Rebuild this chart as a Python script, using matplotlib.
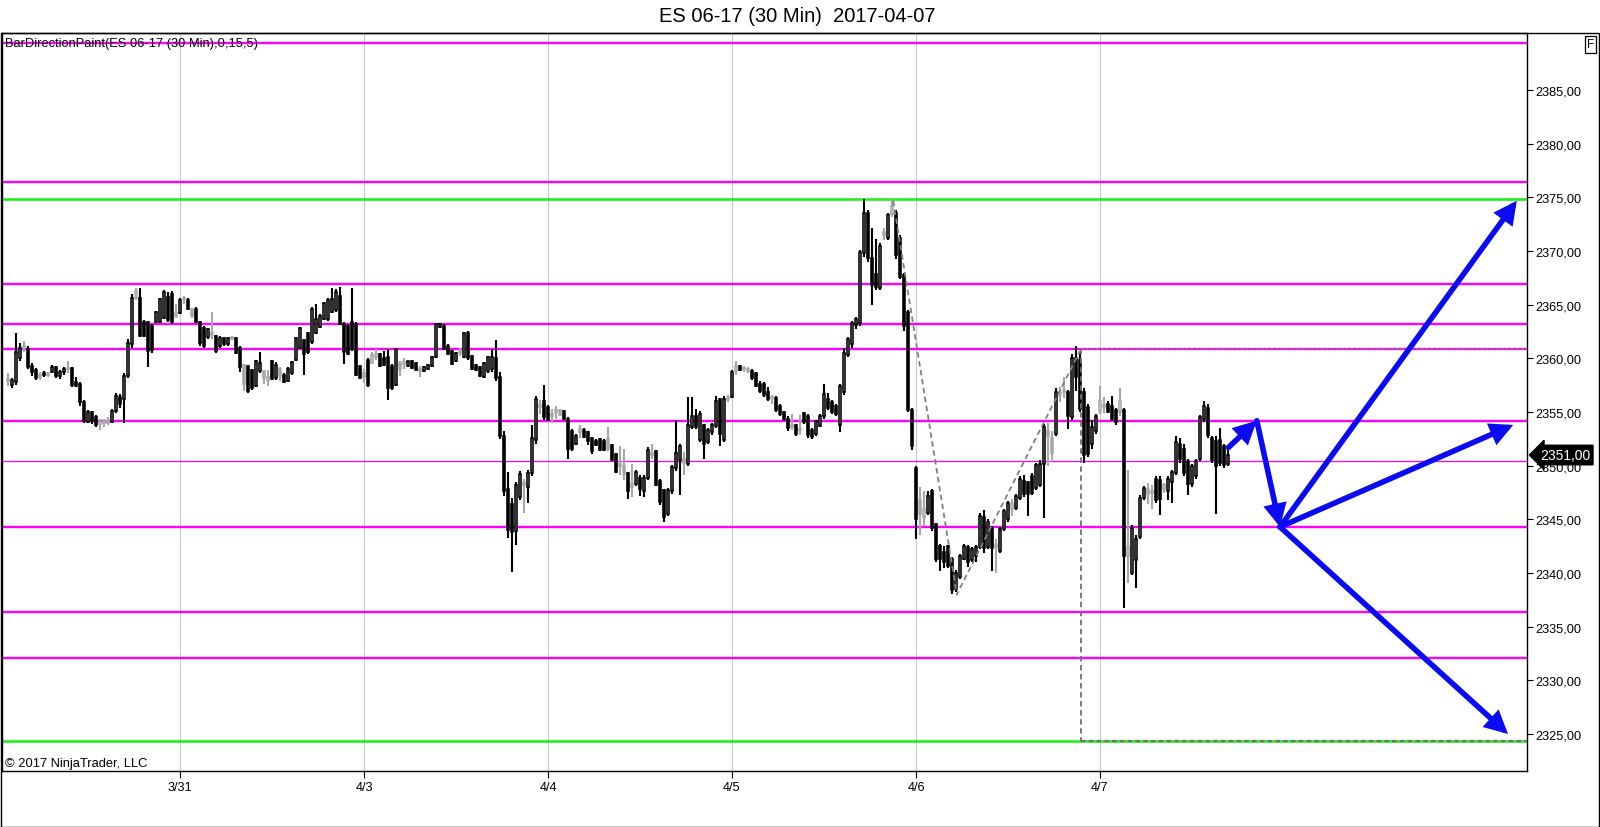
import matplotlib
matplotlib.use("Agg")
import matplotlib.pyplot as plt
from matplotlib.patches import Rectangle
import numpy as np
import pandas as pd

plt.rcParams['font.family'] = ['Liberation Sans', 'DejaVu Sans']

# ---------------- text ----------------
title = 'ES 06-17 (30 Min)  2017-04-07'
indicator_label = 'BarDirectionPaint(ES 06-17 (30 Min),0,15,5)'
copyright_text = '\u00a9 2017 NinjaTrader, LLC'

# ---------------- time axis ----------------
trade_days = ['2017-03-30', '2017-03-31', '2017-04-03', '2017-04-04',
              '2017-04-05', '2017-04-06', '2017-04-07']
first_bar_time = '2017-03-30 01:30'

# ---------------- OHLC (30 min bars) ----------------
opens = [
    2358.0, 2357.5, 2357.8, 2360.0, 2361.0, 2360.9, 2359.3, 2358.9, 2358.3, 2358.6,
    2358.5, 2358.7, 2359.2, 2358.4, 2358.7, 2359.0, 2359.1, 2357.8, 2357.6, 2355.9,
    2354.1, 2355.0, 2354.5, 2353.9, 2354.0, 2354.0, 2354.1, 2355.1, 2356.4, 2356.2,
    2358.4, 2361.3, 2365.6, 2365.6, 2363.4, 2363.4, 2363.0, 2363.4, 2363.4, 2363.8,
    2365.7, 2366.0, 2364.0, 2364.2, 2365.5, 2365.4, 2364.6, 2364.6, 2363.4, 2362.8,
    2362.0, 2362.4, 2362.1, 2361.2, 2361.9, 2361.3, 2362.0, 2361.9, 2361.0, 2359.4,
    2359.3, 2358.9, 2357.4, 2358.8, 2358.8, 2358.0, 2359.8, 2358.2, 2359.0, 2358.5,
    2357.9, 2358.6, 2359.9, 2361.0, 2361.7, 2362.4, 2361.5, 2362.4, 2362.9, 2363.7,
    2363.7, 2364.3, 2364.5, 2365.8, 2363.2, 2363.0, 2363.4, 2363.2, 2359.3, 2358.6,
    2359.9, 2359.6, 2360.1, 2360.4, 2360.0, 2360.1, 2359.3, 2357.5, 2359.6, 2359.5,
    2359.3, 2359.8, 2359.6, 2359.0, 2358.8, 2359.0, 2359.3, 2360.1, 2362.9, 2363.0,
    2361.2, 2360.7, 2359.8, 2360.5, 2360.1, 2362.4, 2360.2, 2359.4, 2359.2, 2358.3,
    2358.8, 2359.0, 2360.0, 2358.3, 2352.8, 2347.8, 2346.4, 2343.9, 2347.1, 2348.2,
    2348.0, 2349.3, 2352.4, 2355.5, 2356.0, 2355.5, 2354.6, 2355.0, 2355.2, 2355.1,
    2354.4, 2353.2, 2352.0, 2353.1, 2353.3, 2353.1, 2352.6, 2352.3, 2352.5, 2352.3,
    2352.5, 2351.9, 2351.1, 2350.2, 2350.0, 2349.3, 2348.0, 2348.3, 2348.9, 2347.6,
    2348.9, 2351.2, 2351.4, 2348.6, 2347.7, 2345.5, 2347.6, 2349.8, 2350.5, 2350.6,
    2350.2, 2353.6, 2354.6, 2352.4, 2353.8, 2352.2, 2353.1, 2353.7, 2356.2, 2352.4,
    2356.2, 2356.4, 2358.8, 2359.3, 2359.0, 2359.0, 2358.8, 2358.6, 2357.6, 2357.6,
    2356.9, 2356.4, 2356.3, 2355.6, 2355.0, 2354.4, 2353.6, 2353.8, 2353.4, 2354.9,
    2354.6, 2353.3, 2353.0, 2353.7, 2354.6, 2356.2, 2355.9, 2355.6, 2353.8, 2356.9,
    2360.3, 2361.3, 2363.1, 2363.3, 2369.8, 2373.6, 2369.4, 2367.9, 2366.6, 2371.8,
    2371.2, 2373.5, 2373.6, 2371.2, 2367.8, 2364.3, 2355.2, 2349.8, 2346.8, 2345.2,
    2345.6, 2347.6, 2344.6, 2342.5, 2342.0, 2342.5, 2341.3, 2338.5, 2339.6, 2341.3,
    2342.4, 2341.2, 2341.6, 2342.4, 2345.2, 2342.4, 2344.2, 2342.4, 2342.1, 2344.1,
    2345.0, 2346.0, 2346.1, 2347.0, 2348.6, 2348.5, 2349.0, 2347.9, 2348.2, 2350.2,
    2353.2, 2352.6, 2353.0, 2356.6, 2357.0, 2356.9, 2354.5, 2360.0, 2359.9, 2356.9,
    2355.5, 2352.0, 2353.2, 2355.1, 2355.6, 2355.8, 2355.6, 2355.2, 2355.0, 2355.2,
    2341.6, 2340.0, 2341.2, 2343.4, 2347.0, 2347.8, 2347.5, 2348.8, 2348.7, 2347.8,
    2347.6, 2348.5, 2349.3, 2352.0, 2351.6, 2350.4, 2348.3, 2349.0, 2350.6, 2354.4,
    2355.4, 2352.6, 2352.3, 2352.4, 2351.8, 2350.2,
]
highs = [
    2358.6, 2358.2, 2362.4, 2361.4, 2361.6, 2361.2, 2359.6, 2359.1, 2358.7, 2358.8,
    2358.7, 2359.4, 2359.3, 2358.9, 2359.2, 2359.8, 2359.2, 2358.3, 2357.8, 2356.1,
    2355.2, 2355.1, 2354.7, 2354.4, 2354.4, 2354.5, 2355.3, 2356.8, 2356.7, 2358.6,
    2361.8, 2366.0, 2366.6, 2366.6, 2363.6, 2363.5, 2363.2, 2364.4, 2365.6, 2366.4,
    2366.2, 2366.3, 2365.1, 2365.6, 2365.8, 2365.6, 2364.7, 2364.8, 2363.5, 2363.0,
    2362.8, 2364.3, 2362.2, 2362.1, 2362.0, 2362.0, 2362.1, 2362.0, 2361.2, 2359.5,
    2359.4, 2359.0, 2359.9, 2360.6, 2358.9, 2358.9, 2359.9, 2359.7, 2359.2, 2358.6,
    2359.2, 2359.8, 2362.0, 2362.9, 2361.8, 2362.5, 2364.8, 2365.1, 2364.1, 2365.3,
    2365.6, 2366.6, 2366.5, 2366.7, 2363.4, 2363.2, 2366.6, 2363.4, 2359.4, 2359.0,
    2360.0, 2360.6, 2360.9, 2360.5, 2360.7, 2360.9, 2359.5, 2361.0, 2359.8, 2360.0,
    2359.8, 2359.9, 2359.7, 2359.3, 2359.3, 2359.5, 2360.2, 2363.3, 2363.3, 2363.2,
    2361.3, 2360.8, 2360.6, 2361.0, 2362.5, 2362.6, 2360.3, 2359.5, 2359.3, 2359.7,
    2360.2, 2360.9, 2361.7, 2358.7, 2353.2, 2349.4, 2347.0, 2348.5, 2349.5, 2348.8,
    2349.6, 2353.8, 2356.5, 2356.1, 2357.5, 2355.7, 2355.3, 2355.6, 2355.3, 2355.2,
    2354.5, 2353.4, 2353.0, 2353.8, 2353.5, 2353.2, 2352.7, 2352.5, 2352.6, 2352.5,
    2353.6, 2352.0, 2351.2, 2351.8, 2351.6, 2349.4, 2350.2, 2349.6, 2349.1, 2349.1,
    2351.7, 2352.0, 2351.5, 2348.8, 2347.8, 2347.9, 2350.1, 2354.3, 2352.0, 2351.3,
    2356.4, 2356.4, 2355.3, 2355.1, 2353.9, 2353.5, 2354.0, 2356.5, 2356.3, 2356.5,
    2356.6, 2358.9, 2359.8, 2359.4, 2359.3, 2359.2, 2359.0, 2358.7, 2357.9, 2357.8,
    2357.3, 2356.6, 2356.5, 2355.8, 2355.1, 2354.6, 2354.8, 2353.9, 2354.7, 2355.0,
    2354.8, 2353.5, 2354.3, 2354.8, 2357.6, 2356.8, 2356.1, 2355.8, 2357.6, 2361.0,
    2362.0, 2363.5, 2363.9, 2370.1, 2374.9, 2373.8, 2372.2, 2371.1, 2370.8, 2372.2,
    2373.6, 2374.9, 2373.8, 2371.5, 2368.0, 2364.5, 2355.4, 2350.0, 2348.0, 2347.6,
    2347.6, 2347.8, 2344.7, 2342.7, 2342.5, 2342.6, 2341.5, 2340.3, 2341.8, 2342.7,
    2342.6, 2342.4, 2342.6, 2345.6, 2345.9, 2345.0, 2344.4, 2343.2, 2344.3, 2346.0,
    2346.7, 2346.9, 2347.4, 2349.0, 2349.1, 2348.6, 2349.3, 2350.3, 2350.5, 2353.9,
    2354.0, 2353.2, 2357.2, 2357.3, 2358.3, 2357.1, 2360.4, 2361.2, 2360.6, 2357.2,
    2355.8, 2354.3, 2354.8, 2357.4, 2356.4, 2356.0, 2356.5, 2355.4, 2357.2, 2355.4,
    2349.6, 2344.5, 2343.5, 2347.3, 2348.1, 2348.4, 2348.2, 2349.0, 2349.0, 2348.4,
    2349.0, 2349.6, 2352.8, 2352.6, 2352.0, 2350.6, 2350.2, 2350.6, 2354.7, 2356.0,
    2355.8, 2352.8, 2352.8, 2353.5, 2352.0, 2351.6,
]
lows = [
    2357.4, 2357.2, 2357.5, 2359.8, 2360.6, 2359.0, 2358.4, 2358.0, 2358.0, 2358.3,
    2358.3, 2358.6, 2358.2, 2358.1, 2358.5, 2358.6, 2357.3, 2357.3, 2355.6, 2354.0,
    2354.0, 2353.9, 2353.6, 2353.3, 2353.6, 2353.8, 2354.0, 2354.9, 2355.4, 2354.0,
    2358.2, 2361.0, 2365.4, 2362.0, 2362.0, 2359.2, 2360.5, 2363.3, 2363.3, 2363.7,
    2363.4, 2363.2, 2363.8, 2364.1, 2365.1, 2364.5, 2363.8, 2363.3, 2361.2, 2361.0,
    2361.8, 2361.8, 2360.5, 2361.0, 2361.2, 2361.2, 2361.7, 2360.4, 2358.7, 2357.0,
    2356.8, 2357.1, 2357.3, 2358.6, 2357.6, 2357.4, 2358.0, 2358.0, 2357.9, 2357.7,
    2357.8, 2358.5, 2359.8, 2360.9, 2358.5, 2360.4, 2361.3, 2362.3, 2362.8, 2363.6,
    2363.5, 2364.2, 2364.3, 2363.1, 2359.5, 2360.3, 2360.7, 2358.4, 2358.1, 2357.7,
    2357.3, 2359.5, 2359.9, 2359.2, 2359.3, 2356.1, 2357.1, 2357.4, 2358.4, 2359.0,
    2359.2, 2359.0, 2358.8, 2358.3, 2358.7, 2358.9, 2359.2, 2360.0, 2362.8, 2360.8,
    2360.3, 2359.4, 2359.7, 2360.2, 2360.0, 2359.9, 2358.9, 2358.8, 2358.3, 2358.2,
    2358.6, 2358.7, 2357.9, 2352.5, 2347.2, 2343.3, 2340.1, 2342.6, 2346.8, 2345.6,
    2346.5, 2349.0, 2352.0, 2354.8, 2354.3, 2354.2, 2354.0, 2354.4, 2354.6, 2354.3,
    2350.6, 2351.4, 2351.9, 2352.6, 2352.6, 2351.9, 2351.1, 2351.8, 2351.4, 2351.4,
    2351.4, 2350.4, 2349.3, 2349.1, 2348.7, 2346.9, 2347.1, 2348.1, 2347.2, 2347.1,
    2348.7, 2350.6, 2348.1, 2346.3, 2344.8, 2345.3, 2347.4, 2349.5, 2347.3, 2349.1,
    2350.0, 2353.4, 2353.4, 2352.2, 2350.6, 2352.0, 2352.9, 2353.5, 2351.8, 2352.2,
    2355.9, 2356.3, 2358.5, 2358.8, 2358.7, 2358.6, 2358.0, 2357.3, 2356.8, 2356.4,
    2356.0, 2355.8, 2355.0, 2354.6, 2354.2, 2353.2, 2353.3, 2352.8, 2352.9, 2353.9,
    2352.6, 2352.5, 2352.8, 2353.6, 2354.4, 2355.2, 2354.8, 2354.6, 2353.1, 2356.6,
    2360.1, 2361.0, 2362.7, 2363.0, 2369.5, 2369.0, 2365.0, 2366.4, 2366.4, 2371.0,
    2371.0, 2373.2, 2369.3, 2367.4, 2362.6, 2355.0, 2351.5, 2343.2, 2343.5, 2344.4,
    2345.4, 2343.9, 2341.0, 2340.2, 2340.5, 2340.5, 2338.0, 2338.2, 2339.4, 2341.2,
    2340.6, 2341.0, 2341.0, 2342.2, 2341.9, 2342.2, 2340.2, 2340.0, 2341.9, 2343.9,
    2344.8, 2345.3, 2345.9, 2346.8, 2347.1, 2345.3, 2347.3, 2347.7, 2348.0, 2345.1,
    2350.0, 2350.5, 2352.8, 2355.9, 2356.3, 2353.4, 2354.3, 2357.0, 2355.0, 2350.3,
    2350.8, 2351.6, 2353.0, 2354.8, 2354.9, 2354.9, 2354.2, 2353.8, 2354.6, 2336.7,
    2339.1, 2339.8, 2338.6, 2343.2, 2346.8, 2346.4, 2346.0, 2346.5, 2345.4, 2347.5,
    2346.8, 2346.5, 2349.1, 2350.3, 2349.0, 2347.3, 2348.0, 2348.8, 2350.4, 2354.1,
    2352.6, 2350.3, 2345.5, 2350.0, 2349.8, 2350.0,
]
closes = [
    2357.9, 2358.0, 2360.6, 2361.0, 2361.2, 2359.2, 2358.7, 2358.2, 2358.3, 2358.5,
    2358.5, 2359.2, 2358.4, 2358.7, 2359.0, 2359.1, 2357.5, 2357.4, 2355.9, 2354.2,
    2355.0, 2354.2, 2353.8, 2354.0, 2354.0, 2354.2, 2355.1, 2356.5, 2355.8, 2358.4,
    2361.4, 2365.6, 2366.3, 2362.1, 2362.1, 2360.7, 2360.8, 2364.3, 2365.5, 2366.2,
    2363.6, 2363.4, 2364.2, 2365.4, 2365.6, 2364.6, 2364.0, 2363.4, 2361.4, 2361.2,
    2362.7, 2362.2, 2360.7, 2361.9, 2361.3, 2361.9, 2361.8, 2360.5, 2359.2, 2357.6,
    2357.0, 2357.2, 2359.8, 2359.6, 2358.2, 2358.3, 2358.1, 2359.4, 2358.4, 2357.8,
    2359.0, 2359.7, 2361.9, 2362.8, 2360.4, 2360.6, 2364.6, 2363.7, 2364.0, 2365.2,
    2365.4, 2365.5, 2366.2, 2363.2, 2360.6, 2360.4, 2360.9, 2358.5, 2358.2, 2358.3,
    2357.5, 2360.3, 2360.4, 2359.3, 2359.4, 2357.2, 2357.2, 2360.9, 2359.0, 2359.7,
    2359.8, 2359.1, 2358.9, 2358.8, 2359.2, 2359.4, 2360.1, 2363.2, 2363.2, 2360.9,
    2360.4, 2359.5, 2360.5, 2360.6, 2362.4, 2360.0, 2359.0, 2358.9, 2358.4, 2359.6,
    2360.1, 2360.1, 2358.2, 2352.8, 2347.6, 2344.0, 2343.8, 2348.2, 2349.2, 2348.4,
    2349.3, 2352.6, 2356.2, 2355.7, 2354.5, 2354.3, 2354.8, 2355.1, 2354.7, 2354.4,
    2351.6, 2351.6, 2352.8, 2353.4, 2352.7, 2352.3, 2351.4, 2351.9, 2351.5, 2351.5,
    2351.6, 2350.5, 2349.4, 2350.0, 2349.2, 2347.6, 2348.3, 2349.4, 2347.8, 2348.9,
    2351.5, 2351.0, 2348.2, 2346.6, 2345.2, 2347.7, 2349.9, 2351.2, 2351.8, 2350.3,
    2353.8, 2354.6, 2353.6, 2354.8, 2352.0, 2353.3, 2353.8, 2356.0, 2353.0, 2356.2,
    2356.3, 2358.7, 2359.3, 2358.9, 2359.0, 2358.8, 2358.2, 2357.4, 2357.0, 2356.6,
    2356.2, 2356.3, 2355.2, 2354.8, 2354.4, 2353.5, 2353.7, 2353.0, 2353.3, 2354.1,
    2352.9, 2352.7, 2354.2, 2354.6, 2356.7, 2355.4, 2355.0, 2354.8, 2357.4, 2360.5,
    2361.8, 2363.3, 2363.7, 2369.9, 2373.6, 2369.4, 2366.8, 2366.7, 2370.5, 2371.5,
    2373.4, 2374.2, 2369.6, 2367.6, 2363.0, 2355.2, 2351.8, 2345.0, 2345.5, 2346.0,
    2347.2, 2344.2, 2341.3, 2341.3, 2341.0, 2340.7, 2338.4, 2340.0, 2341.6, 2342.5,
    2341.0, 2342.2, 2342.4, 2345.3, 2342.3, 2344.8, 2342.3, 2342.6, 2344.1, 2345.8,
    2346.5, 2346.4, 2347.2, 2348.8, 2347.4, 2347.4, 2347.5, 2350.1, 2350.2, 2353.6,
    2352.8, 2351.2, 2356.9, 2356.8, 2356.9, 2354.6, 2360.0, 2358.3, 2355.3, 2351.0,
    2351.1, 2353.6, 2354.6, 2356.0, 2355.5, 2355.0, 2354.4, 2354.1, 2356.0, 2341.6,
    2342.4, 2344.2, 2343.2, 2347.0, 2347.9, 2347.4, 2347.6, 2346.8, 2346.9, 2348.2,
    2348.8, 2349.4, 2352.2, 2350.6, 2349.3, 2348.3, 2350.0, 2350.4, 2354.5, 2355.6,
    2352.9, 2350.5, 2350.0, 2350.3, 2350.1, 2351.0,
]
# bars painted gray by BarDirectionPaint
gray_bars = [0, 4, 8, 10, 15, 23, 24, 25, 32, 42, 44, 46, 51, 56, 59, 64, 65, 68,
             89, 91, 92, 98, 99, 103, 113, 129, 133, 136, 137, 138, 143, 150, 153,
             154, 156, 161, 169, 180, 182, 184, 185, 191, 196, 198, 219, 221, 228,
             229, 247, 251, 260, 261, 263, 264, 273, 274, 278, 280, 285, 286, 289]

# ---------------- horizontal levels ----------------
magenta_levels = [2389.4, 2376.4, 2366.9, 2363.2, 2360.9, 2354.2, 2344.3, 2336.4, 2332.1]
thin_magenta_levels = [2350.4]
green_levels = [2374.85, 2324.3]

# ---------------- drawings ----------------
zigzag_bars = [221.3, 237.2, 268.0]
zigzag_prices = [2374.7, 2338.0, 2360.7]
box_bar = 268.25
box_top = 2360.9
box_bottom = 2324.3

path_bars = [305.1, 312.2, 318.0]
path_prices = [2351.7, 2354.2, 2344.3]
fan_bars = [377.2, 376.3, 375.0]
fan_prices = [2374.7, 2353.8, 2325.0]

last_price = 2351.0
price_ticks = [2325, 2330, 2335, 2340, 2345, 2350, 2355, 2360, 2365, 2370, 2375, 2380, 2385]

# ---------------- build bar times & day ticks ----------------
times = []
for d in pd.to_datetime(trade_days):
    start = d - pd.Timedelta(days=1) + pd.Timedelta(hours=17, minutes=30)
    times.extend(pd.date_range(start, periods=46, freq='30min'))
times = [t for t in times if t >= pd.Timestamp(first_bar_time)][:len(closes)]
day_idx, day_lab = [], []
for d in pd.to_datetime(trade_days[1:]):
    for i, t in enumerate(times):
        if t >= d:
            day_idx.append(i)
            day_lab.append(f"{d.month}/{d.day}")
            break

# ---------------- figure ----------------
W, H = 1600, 828
fig = plt.figure(figsize=(W / 100, H / 100), dpi=100)
ax = fig.add_axes([2 / W, 1 - 772 / H, 1525 / W, 738 / H])
ax.set_xlim(-1.5, 379.75)
ax.set_ylim(2321.55, 2390.33)

MAGENTA = '#FF00FF'
GREEN = '#1EF01E'
GRAYC = '#A8A8A8'
BLUE = '#0A0AF5'

for lv in magenta_levels:
    ax.axhline(lv, color=MAGENTA, lw=1.7, zorder=1)
for lv in thin_magenta_levels:
    ax.axhline(lv, color=MAGENTA, lw=0.9, zorder=1)
for lv in green_levels:
    ax.axhline(lv, color=GREEN, lw=1.9, zorder=1)

# candles
x = np.arange(len(closes))
o = np.array(opens); h = np.array(highs); l = np.array(lows); c = np.array(closes)
is_gray = np.isin(x, gray_bars)
up = c >= o
edge = np.where(is_gray, GRAYC, 'black')
face = np.where(up, 'white', np.where(is_gray, GRAYC, 'black'))
ax.vlines(x, l, h, colors=edge, lw=1.5, zorder=3)
ax.bar(x, np.maximum(np.abs(c - o), 0.15), bottom=np.minimum(o, c), width=0.7,
       color=face, edgecolor=edge, linewidth=1.15, zorder=4)

# dashed drawings
xr = ax.get_xlim()[1]
ax.plot(zigzag_bars, zigzag_prices, color='#808080', lw=1.3, ls=(0, (3, 2)), zorder=5)
ax.plot([box_bar, box_bar], [box_top, box_bottom], color='#707070', lw=1.3, ls=(0, (3, 2)), zorder=5)
ax.plot([box_bar, xr], [box_top, box_top], color='#808080', lw=1.2, ls=(0, (1.5, 1.5)), zorder=5)
ax.plot([box_bar, xr], [box_bottom, box_bottom], color='#707070', lw=1.6, ls=(0, (2, 1.5)), zorder=5)

# blue forecast arrows
ap = dict(arrowstyle='-|>,head_length=0.75,head_width=0.38', lw=4.0, color=BLUE,
          mutation_scale=14, shrinkA=0, shrinkB=0, joinstyle='miter')
for k in range(len(path_bars) - 1):
    ax.annotate('', xy=(path_bars[k + 1], path_prices[k + 1]),
                xytext=(path_bars[k], path_prices[k]), arrowprops=ap, zorder=6)
for fb, fp in zip(fan_bars, fan_prices):
    ax.annotate('', xy=(fb, fp), xytext=(path_bars[-1], path_prices[-1]),
                arrowprops=ap, zorder=6)

# axes styling
ax.set_xticks(day_idx)
ax.set_xticklabels(day_lab)
ax.grid(axis='x', color='#C8C8C8', lw=0.8, zorder=0)
ax.set_axisbelow(True)
ax.yaxis.tick_right()
ax.set_yticks(price_ticks)
ax.set_yticklabels([f"{v:.2f}".replace('.', ',') for v in price_ticks])
ax.tick_params(axis='y', direction='out', length=4.5, width=0.8, pad=1.5,
               labelsize=9.2, left=False, right=True)
ax.tick_params(axis='x', direction='out', length=5, width=0.8, pad=2.5,
               labelsize=9.2, top=False)
for s in ax.spines.values():
    s.set_linewidth(1.0)
    s.set_color('black')

# last price marker
ax.text(1.0085, last_price, f"{last_price:.2f}".replace('.', ','),
        transform=ax.get_yaxis_transform(), ha='left', va='center', color='white',
        fontsize=10, zorder=10, clip_on=False,
        bbox=dict(boxstyle='larrow,pad=0.2', fc='black', ec='black'))

# texts
ax.text(0.002, 2389.4, indicator_label, transform=ax.get_yaxis_transform(),
        ha='left', va='center', fontsize=9.3, color='black', zorder=7)
ax.text(0.002, 1 - 730 / 738, copyright_text, transform=ax.transAxes,
        ha='left', va='center', fontsize=9.3, color='black', zorder=7)
fig.text(797 / W, 1 - 16 / H, title, ha='center', va='center', fontsize=14.5)

# F box
fig.text(1590.5 / W, 1 - 45.5 / H, 'F', ha='center', va='center', fontsize=8.5,
         bbox=dict(boxstyle='square,pad=0.2', fc='white', ec='black', lw=0.9))

# outer panel frame
fig.add_artist(Rectangle((0.5 / W, 0.5 / H), 1598.5 / W, (H - 34.5) / H,
                         transform=fig.transFigure, fill=False, ec='black', lw=1.0))

fig.savefig('out.png', dpi=100, facecolor='white')
